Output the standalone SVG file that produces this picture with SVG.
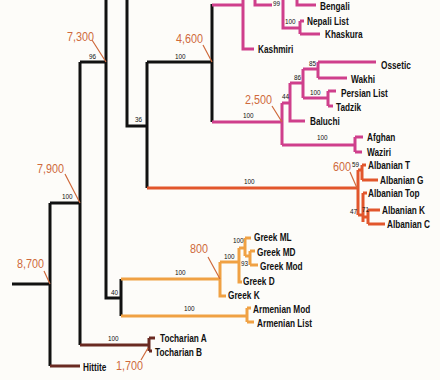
<svg xmlns="http://www.w3.org/2000/svg" width="440" height="380" viewBox="0 0 440 380">
<style>
.k{fill:none;stroke:#111;stroke-width:3}
.m{fill:none;stroke:#cf3f8c;stroke-width:3}
.r{fill:none;stroke:#e2562c;stroke-width:3}
.o{fill:none;stroke:#f0a144;stroke-width:3}
.b{fill:none;stroke:#6a2a22;stroke-width:3}
.ld{fill:none;stroke:#cf6a3c;stroke-width:1.2}
.t{font-family:"Liberation Sans",Arial,sans-serif;font-weight:bold;font-size:11px;fill:#111}
.s{font-family:"Liberation Sans",Arial,sans-serif;font-size:7.5px;fill:#111}
.d{font-family:"Liberation Sans",Arial,sans-serif;font-size:13.5px;fill:#cf6a3c}
</style>
<rect width="440" height="380" fill="#fdfcf9"/>
<g id="connectors">
<path class="k" d="M12,284 H50 M50,203 V366 M50,203 H80 M80,62 V345 M80,62 H106 M106,0 V298 H121 M121,279 V316 M127,0 V126 H147 M147,62 V188 M147,62 H212 M212,4 V122"/>
<path class="b" d="M50,366 H80 M80,345 H149 M149,338 V351 M149,338 H155 M149,351 H152"/>
<path class="m" d="M212,5 H243 M243,0 V49 H254 M255,0 V5 H272 M297,0 V5 H316 M283,0 V28 H300 M300,21 V34 M300,21 H304 M300,34 H320"/>
<path class="m" d="M212,122 H282 M282,103 V145 M282,103 H290 M290,83 V121 H305 M290,83 H303 M303,69 V98 M303,69 H318 M318,62 V78 M318,62 H376 M318,78 H347 M303,98 H328 M328,91 V106 M328,91 H336 M328,106 H333 M282,145 H355 M355,137 V152 M355,137 H363 M355,152 H362"/>
<path class="r" d="M147,188 H358 M358,170 V215 M358,170 H362 M362,165 V180 M362,165 H366 M362,180 H378 M358,215 H363 M363,193 V222 M363,193 H367 M363,217 H368 M368,210 V224 M368,210 H380 M368,224 H385"/>
<path class="o" d="M121,279 H220 M220,262 V296 H226 M220,262 H239 M239,248 V282 H242 M239,248 H245 M245,238 V256 M245,238 H251 M245,256 H250 M250,251 V265 M250,251 H255 M250,265 H258 M121,316 H247 M247,308 V322 M247,308 H251 M247,322 H254"/>
<path class="ld" d="M92,40 L106,62 M203,45 L212,62 M65,174 L80,203 M44,271 L50,284 M272,106 L282,122 M350,172 L357,188 M208,257 L220,279 M141,360 L148,348"/>
</g>
<g id="support">
<text class="s" transform="translate(62,199) scale(0.85 1)">100</text>
<text class="s" transform="translate(89,59) scale(0.85 1)">96</text>
<text class="s" transform="translate(135,122) scale(0.85 1)">36</text>
<text class="s" transform="translate(175,59) scale(0.85 1)">100</text>
<text class="s" transform="translate(273,6) scale(0.85 1)" font-size="6.5">99</text>
<text class="s" transform="translate(285,24) scale(0.85 1)">100</text>
<text class="s" transform="translate(243,118) scale(0.85 1)">100</text>
<text class="s" transform="translate(282,99) scale(0.85 1)">44</text>
<text class="s" transform="translate(294,80) scale(0.85 1)">86</text>
<text class="s" transform="translate(309,66) scale(0.85 1)">85</text>
<text class="s" transform="translate(310,95) scale(0.85 1)">100</text>
<text class="s" transform="translate(317,140) scale(0.85 1)">100</text>
<text class="s" transform="translate(244,184) scale(0.85 1)">100</text>
<text class="s" transform="translate(352,167) scale(0.85 1)">59</text>
<text class="s" transform="translate(350,214) scale(0.85 1)">47</text>
<text class="s" transform="translate(362,212) scale(0.85 1)">71</text>
<text class="s" transform="translate(175,275) scale(0.85 1)">100</text>
<text class="s" transform="translate(224,259) scale(0.85 1)">100</text>
<text class="s" transform="translate(233,243) scale(0.85 1)">100</text>
<text class="s" transform="translate(241,266) scale(0.85 1)">93</text>
<text class="s" transform="translate(184,311) scale(0.85 1)">100</text>
<text class="s" transform="translate(111,295) scale(0.85 1)">40</text>
<text class="s" transform="translate(108,341) scale(0.85 1)">100</text>
</g>
<g id="dates">
<text class="d" transform="translate(67,41) scale(0.8 1)">7,300</text>
<text class="d" transform="translate(176,43) scale(0.8 1)">4,600</text>
<text class="d" transform="translate(37,173) scale(0.8 1)">7,900</text>
<text class="d" transform="translate(17,268) scale(0.8 1)">8,700</text>
<text class="d" transform="translate(245,104) scale(0.8 1)">2,500</text>
<text class="d" transform="translate(333,171) scale(0.8 1)">600</text>
<text class="d" transform="translate(190,253) scale(0.8 1)">800</text>
<text class="d" transform="translate(116,370) scale(0.8 1)">1,700</text>
</g>
<g id="n-bengali"><text class="t" transform="translate(320,10) scale(0.75 1)">Bengali</text></g>
<g id="n-nepali"><text class="t" transform="translate(307,25) scale(0.75 1)">Nepali List</text></g>
<g id="n-khaskura"><text class="t" transform="translate(325,38) scale(0.75 1)">Khaskura</text></g>
<g id="n-kashmiri"><text class="t" transform="translate(258,53) scale(0.75 1)">Kashmiri</text></g>
<g id="n-ossetic"><text class="t" transform="translate(381,69) scale(0.75 1)">Ossetic</text></g>
<g id="n-wakhi"><text class="t" transform="translate(351,83) scale(0.75 1)">Wakhi</text></g>
<g id="n-persian"><text class="t" transform="translate(341,97) scale(0.75 1)">Persian List</text></g>
<g id="n-tadzik"><text class="t" transform="translate(336,111) scale(0.75 1)">Tadzik</text></g>
<g id="n-baluchi"><text class="t" transform="translate(310,125) scale(0.75 1)">Baluchi</text></g>
<g id="n-afghan"><text class="t" transform="translate(367,141) scale(0.75 1)">Afghan</text></g>
<g id="n-waziri"><text class="t" transform="translate(367,156) scale(0.75 1)">Waziri</text></g>
<g id="n-albt"><text class="t" transform="translate(368,169) scale(0.75 1)">Albanian T</text></g>
<g id="n-albg"><text class="t" transform="translate(380,184) scale(0.75 1)">Albanian G</text></g>
<g id="n-albtop"><text class="t" transform="translate(368,197) scale(0.75 1)">Albanian Top</text></g>
<g id="n-albk"><text class="t" transform="translate(382,214) scale(0.75 1)">Albanian K</text></g>
<g id="n-albc"><text class="t" transform="translate(387,228) scale(0.75 1)">Albanian C</text></g>
<g id="n-greekml"><text class="t" transform="translate(254,241) scale(0.75 1)">Greek ML</text></g>
<g id="n-greekmd"><text class="t" transform="translate(257,256) scale(0.75 1)">Greek MD</text></g>
<g id="n-greekmod"><text class="t" transform="translate(260,270) scale(0.75 1)">Greek Mod</text></g>
<g id="n-greekd"><text class="t" transform="translate(243,285) scale(0.75 1)">Greek D</text></g>
<g id="n-greekk"><text class="t" transform="translate(228,299) scale(0.75 1)">Greek K</text></g>
<g id="n-armmod"><text class="t" transform="translate(253,313) scale(0.75 1)">Armenian Mod</text></g>
<g id="n-armlist"><text class="t" transform="translate(257,327) scale(0.75 1)">Armenian List</text></g>
<g id="n-tochA"><text class="t" transform="translate(160,342) scale(0.75 1)">Tocharian A</text></g>
<g id="n-tochB"><text class="t" transform="translate(155,356) scale(0.75 1)">Tocharian B</text></g>
<g id="n-hittite"><text class="t" transform="translate(83,371) scale(0.75 1)">Hittite</text></g>
</svg>
